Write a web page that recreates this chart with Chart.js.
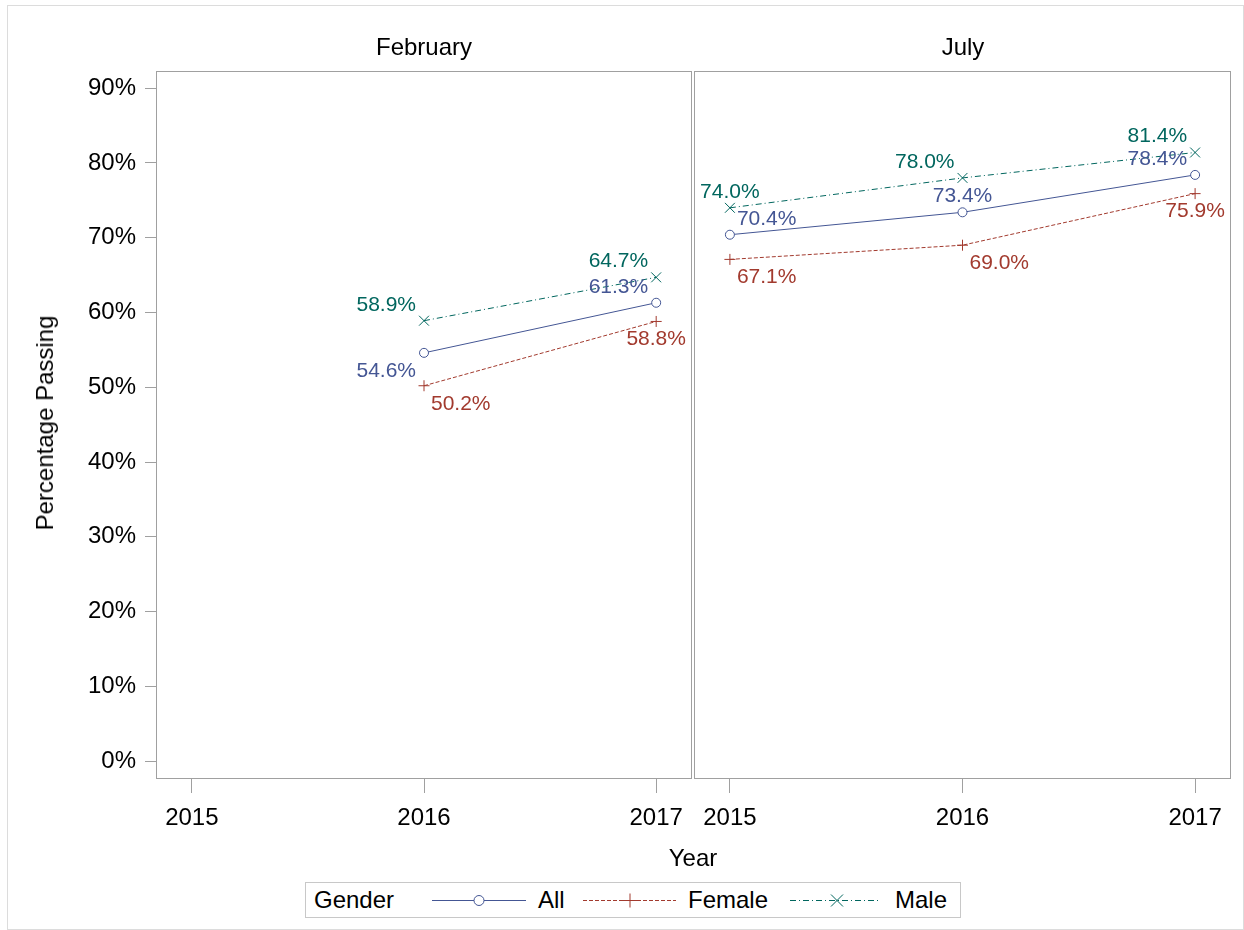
<!DOCTYPE html>
<html>
<head>
<meta charset="utf-8">
<script src="https://cdn.jsdelivr.net/npm/chart.js@4.4.1/dist/chart.umd.min.js"></script>
<style>
  html, body { margin: 0; padding: 0; background: #fff; }
  #root { position: relative; width: 1244px; height: 930px; overflow: hidden; font-family: "Liberation Sans", Arial, sans-serif; color: #000; }
  #frame { position: absolute; left: 7px; top: 5px; width: 1235px; height: 923px; border: 1px solid #dcdcdc; }
  canvas { position: absolute; top: 0; }
  .t { position: absolute; white-space: nowrap; font-size: 24px; line-height: 28px; }
  .c { transform: translate(-50%, -50%); }
  #legend { position: absolute; left: 305px; top: 882px; width: 654px; height: 34px; border: 1px solid #c8c8c8; background: #fff; }
  #legend svg { position: absolute; top: 0; }
</style>
</head>
<body>
<div id="root">
  <div id="frame"></div>
  <canvas id="c1" width="692" height="930" style="left:0px"></canvas>
  <canvas id="c2" width="551" height="930" style="left:693px"></canvas>
  <div class="t c" style="left:424px; top:47px;">February</div>
  <div class="t c" style="left:963px; top:47px;">July</div>
  <div class="t" style="left:45px; top:423px; transform: translate(-50%,-50%) rotate(-90deg);">Percentage Passing</div>
  <div class="t c" style="left:693px; top:858px;">Year</div>
  <div id="legend">
    <div class="t" style="left:8px; top:3px;">Gender</div>
    <svg width="100" height="34" style="left:126px">
      <line x1="0" y1="17.5" x2="94" y2="17.5" stroke="#445694" stroke-width="1"/>
      <circle cx="47" cy="17.5" r="5" fill="#fff" stroke="#445694" stroke-width="1"/>
    </svg>
    <div class="t" style="left:232px; top:3px;">All</div>
    <svg width="100" height="34" style="left:277px">
      <line x1="0" y1="17.5" x2="93" y2="17.5" stroke="#A23A2E" stroke-width="1" stroke-dasharray="4,2"/>
      <line x1="40" y1="17.5" x2="54" y2="17.5" stroke="#A23A2E" stroke-width="1"/>
      <line x1="47" y1="10.5" x2="47" y2="24.5" stroke="#A23A2E" stroke-width="1"/>
    </svg>
    <div class="t" style="left:382px; top:3px;">Female</div>
    <svg width="100" height="34" style="left:484px">
      <line x1="0" y1="17.5" x2="91" y2="17.5" stroke="#01665E" stroke-width="1" stroke-dasharray="6,3,1,3"/>
      <line x1="41" y1="11.5" x2="53" y2="23.5" stroke="#01665E" stroke-width="1"/>
      <line x1="41" y1="23.5" x2="53" y2="11.5" stroke="#01665E" stroke-width="1"/>
    </svg>
    <div class="t" style="left:589px; top:3px;">Male</div>
  </div>
</div>
<script>
// ---- data ----
const years = [2015, 2016, 2017];
const yTickValues = [0, 10, 20, 30, 40, 50, 60, 70, 80, 90];
const seriesNames = ["All", "Female", "Male"];
const febAll    = [null, 54.6, 61.3];
const febFemale = [null, 50.2, 58.8];
const febMale   = [null, 58.9, 64.7];
const julAll    = [70.4, 73.4, 78.4];
const julFemale = [67.1, 69.0, 75.9];
const julMale   = [74.0, 78.0, 81.4];
// label anchor codes (where each value label sits around its point)
const febAllPos    = [null, "SW", "NW"];
const febFemalePos = [null, "SE", "S"];
const febMalePos   = [null, "NW", "NW"];
const julAllPos    = ["NE", "N", "NW"];
const julFemalePos = ["SE", "SE", "S"];
const julMalePos   = ["N", "NW", "NW"];

const FONT = '"Liberation Sans", Arial, sans-serif';
const COLORS = { All: "#445694", Female: "#A23A2E", Male: "#01665E" };
const DASH = { All: [], Female: [4, 2], Male: [6, 3, 1, 3] };
const PSTYLE = { All: "circle", Female: "cross", Male: "crossRot" };
const PRAD = { All: 4.5, Female: 5.5, Male: 7 };
const AXIS_GRAY = "#a0a0a0";

function pts(vals) { return years.map((y, i) => ({ x: y, y: vals[i] })); }

function ds(name, vals, pos) {
  return {
    label: name,
    data: pts(vals),
    labelPos: pos,
    borderColor: COLORS[name],
    backgroundColor: "#ffffff",
    borderWidth: 1,
    borderDash: DASH[name],
    pointStyle: PSTYLE[name],
    pointRadius: PRAD[name],
    pointBorderWidth: 1,
    pointBorderColor: COLORS[name],
    pointBackgroundColor: "#ffffff",
    spanGaps: false,
    tension: 0,
    fill: false
  };
}

const valueLabels = {
  id: "valueLabels",
  afterDatasetsDraw(chart) {
    const ctx = chart.ctx;
    ctx.save();
    ctx.font = "21px " + FONT;
    chart.data.datasets.forEach((d, i) => {
      const meta = chart.getDatasetMeta(i);
      meta.data.forEach((el, j) => {
        const v = d.data[j].y;
        if (v === null || v === undefined) return;
        const pos = d.labelPos[j];
        let x = el.x, y = el.y;
        let align = "center";
        if (pos.includes("W")) { align = "right"; x -= 8; }
        if (pos.includes("E")) { align = "left"; x += 7; }
        if (pos.includes("N")) y -= 16;
        if (pos.includes("S")) y += 18;
        ctx.textAlign = align;
        ctx.textBaseline = "middle";
        ctx.fillStyle = COLORS[d.label];
        ctx.fillText(v.toFixed(1) + "%", x, y);
      });
    });
    ctx.restore();
  }
};

const panelBorder = {
  id: "panelBorder",
  afterDraw(chart) {
    const a = chart.chartArea, ctx = chart.ctx;
    ctx.save();
    ctx.strokeStyle = AXIS_GRAY;
    ctx.lineWidth = 1;
    ctx.strokeRect(Math.round(a.left) - 0.5, Math.round(a.top) + 0.5,
                   Math.round(a.right - a.left) + 1, Math.round(a.bottom - a.top) - 1);
    ctx.restore();
  }
};

function makeChart(id, sets, showY, padding) {
  return new Chart(document.getElementById(id), {
    type: "line",
    data: { datasets: sets },
    plugins: [valueLabels, panelBorder],
    options: {
      responsive: false,
      animation: false,
      devicePixelRatio: 1,
      layout: { padding: padding, autoPadding: false },
      plugins: { legend: { display: false }, tooltip: { enabled: false } },
      scales: {
        x: {
          type: "linear",
          min: 2014.85, max: 2017.15,
          afterFit(s) { s.height = 151; s.paddingLeft = 0; s.paddingRight = 0; },
          afterBuildTicks(s) { s.ticks = years.map(v => ({ value: v })); },
          ticks: { stepSize: 1, includeBounds: false, autoSkip: false, maxRotation: 0,
                   callback: v => String(v), font: { size: 24, family: FONT }, color: "#000", padding: 11 },
          grid: { drawOnChartArea: false, drawTicks: true, tickLength: 14, color: AXIS_GRAY },
          border: { display: false }
        },
        y: {
          display: showY,
          min: -2.4, max: 92.3,
          afterFit(s) { if (showY) s.width = 157; s.paddingTop = 0; s.paddingBottom = 0; },
          afterBuildTicks(s) { s.ticks = yTickValues.map(v => ({ value: v })); },
          ticks: { stepSize: 10, includeBounds: false, callback: v => v + "%",
                   font: { size: 24, family: FONT }, color: "#000", padding: 9 },
          grid: { drawOnChartArea: false, drawTicks: true, tickLength: 12, color: AXIS_GRAY },
          border: { display: false }
        }
      }
    }
  });
}

makeChart("c1", [ds("All", febAll, febAllPos), ds("Female", febFemale, febFemalePos), ds("Male", febMale, febMalePos)],
          true, { top: 71, left: 0, right: 1, bottom: 0 });
makeChart("c2", [ds("All", julAll, julAllPos), ds("Female", julFemale, julFemalePos), ds("Male", julMale, julMalePos)],
          false, { top: 71, left: 2, right: 14, bottom: 0 });
</script>
</body>
</html>
